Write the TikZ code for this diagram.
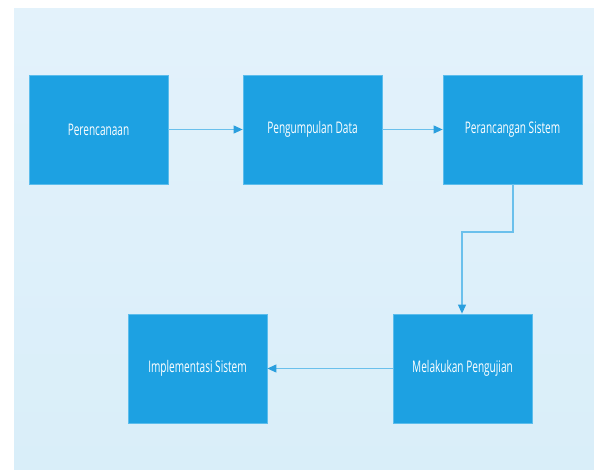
\documentclass[tikz,border=0pt]{standalone}
\usepackage{fontspec}
\setmainfont{Open Sans}[FakeStretch=0.63]
\usetikzlibrary{arrows.meta}
\definecolor{boxblue}{HTML}{1DA1E2}
\definecolor{boxedge}{HTML}{5CBDEC}
\definecolor{linkblue}{HTML}{6AC0EC}
\definecolor{tipblue}{HTML}{2A9FDE}
\definecolor{bgtop}{HTML}{E3F2FB}
\definecolor{bgbot}{HTML}{D9EEF9}
\begin{document}
\begin{tikzpicture}[x=1pt,y=-1pt,
  stepbox/.style={fill=boxblue,draw=boxedge,line width=0.8pt,
    minimum width=139pt,minimum height=109pt,inner sep=0pt,
    text=white,font=\fontsize{16}{18}\selectfont},
  link/.style={draw=linkblue,line width=1.1pt,
    -{Triangle[length=9pt,width=8pt,color=tipblue]}}]
  \useasboundingbox (0,0) rectangle (594,469);
  % panel behind the flow
  \shade[top color=bgtop,bottom color=bgbot] (14,8) rectangle (594,469);
  % process steps
  \node[stepbox] (plan)   at (98.5,129.5)  {Perencanaan};
  \node[stepbox] (data)   at (312.5,129.5) {Pengumpulan Data};
  \node[stepbox] (design) at (512.5,129.5) {Perancangan Sistem};
  \node[stepbox] (test)   at (462.5,368.5) {Melakukan Pengujian};
  \node[stepbox] (impl)   at (197.5,368.5) {Implementasi Sistem};
  % connectors
  \coordinate (bendA) at (513,232);
  \coordinate (bendB) at (462,232);
  \draw[link] (plan) -- (data);
  \draw[link] (data) -- (design);
  \draw[link] (design.south -| bendA) -- (bendA) -- (bendB) -- (test.north -| bendB);
  \draw[link] (test) -- (impl);
\end{tikzpicture}
\end{document}
